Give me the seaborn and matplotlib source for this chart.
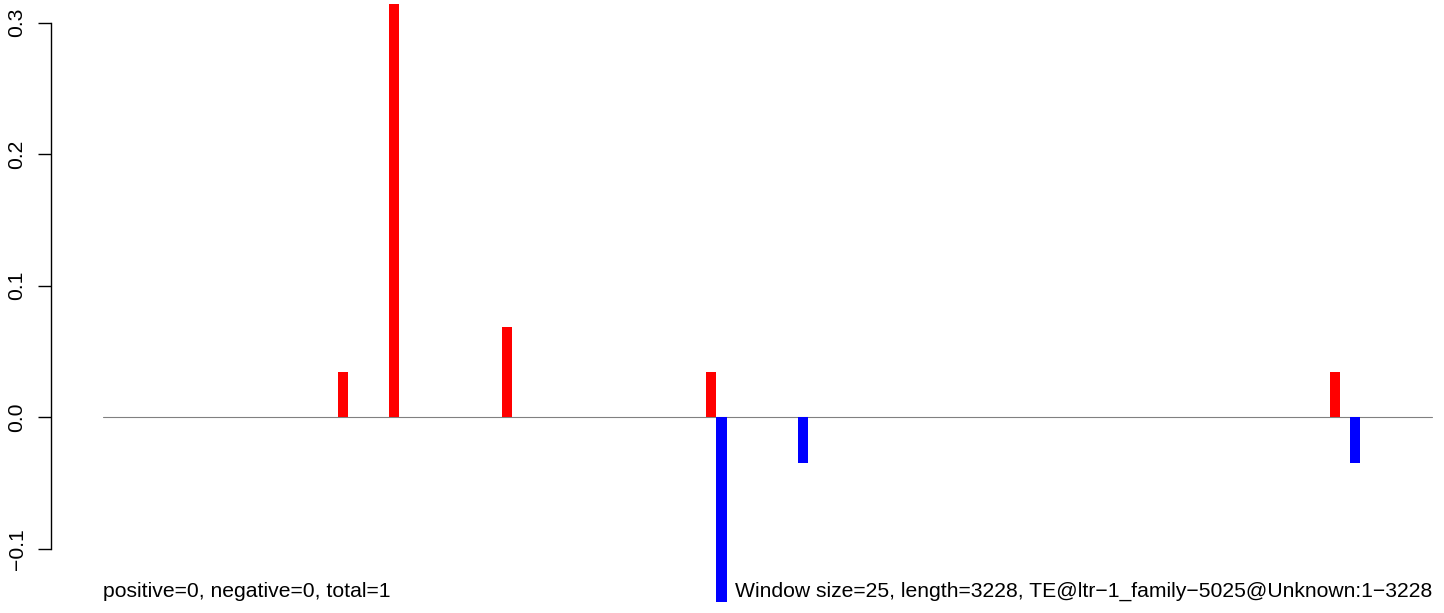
import numpy as np
import pandas as pd
import seaborn as sns
import matplotlib
import matplotlib.pyplot as plt

matplotlib.use("Agg")

# window index (1-based) of each non-zero window and its score
window_index = [24, 29, 40, 60, 61, 69, 121, 123]
score = [0.0345, 0.314, 0.069, 0.0345, -0.140, -0.0345, 0.0345, -0.0345]
n_windows = 130
y_ticks = [-0.1, 0.0, 0.1, 0.2, 0.3]
y_tick_labels = ["\u22120.1", "0.0", "0.1", "0.2", "0.3"]
left_note = "positive=0, negative=0, total=1"
right_note = "Window size=25, length=3228, TE@ltr\u22121_family\u22125025@Unknown:1\u22123228"


def plot_windows():
    """
    Draws the per-window score bars (red above zero, blue below) in R base-graphics style
    and saves the result to out.png.
    """
    sns.set_style("white")
    plt.rcParams["font.family"] = ["Liberation Sans", "DejaVu Sans"]
    plt.rcParams["text.color"] = "black"
    plt.rcParams["ytick.labelcolor"] = "black"

    df = pd.DataFrame({"pos": np.array(window_index) - 0.5, "score": score})
    df["sign"] = np.where(df["score"] > 0, "pos", "neg")

    fig = plt.figure(figsize=(14.44, 6.13), dpi=100)
    ax = fig.add_axes([50.7 / 1444, 0, 1 - 50.7 / 1444, 1])
    sns.barplot(data=df, x="pos", y="score", hue="sign",
                palette={"pos": "#FF0000", "neg": "#0000FF"},
                native_scale=True, width=1, dodge=False, saturation=1,
                linewidth=0, legend=False, ax=ax)
    ax.plot([0, n_windows], [0, 0], color="#808080", lw=0.8, zorder=0)

    ax.set_xlim(-5.117, 131.19)
    ax.set_ylim(-0.1487, 0.3171)
    for side in ["top", "right", "bottom"]:
        ax.spines[side].set_visible(False)
    ax.spines["left"].set_bounds(-0.1, 0.3)
    ax.spines["left"].set_linewidth(1.0)
    ax.spines["left"].set_color("black")
    ax.set_xticks([])
    ax.set_yticks(y_ticks, y_tick_labels, rotation=90, va="center")
    ax.tick_params(axis="y", left=True, length=9.4, width=1.0, direction="out",
                   pad=8, labelsize=15.2, color="black", labelcolor="black")
    ax.set_xlabel("")
    ax.set_ylabel("")

    ax.text(0, -0.1366, left_note, ha="left", va="baseline", fontsize=15.2, color="black")
    ax.text(n_windows, -0.1366, right_note, ha="right", va="baseline", fontsize=15.2,
            color="black")

    fig.savefig("out.png", dpi=100)


def main():
    plot_windows()


if __name__ == "__main__":
    main()
